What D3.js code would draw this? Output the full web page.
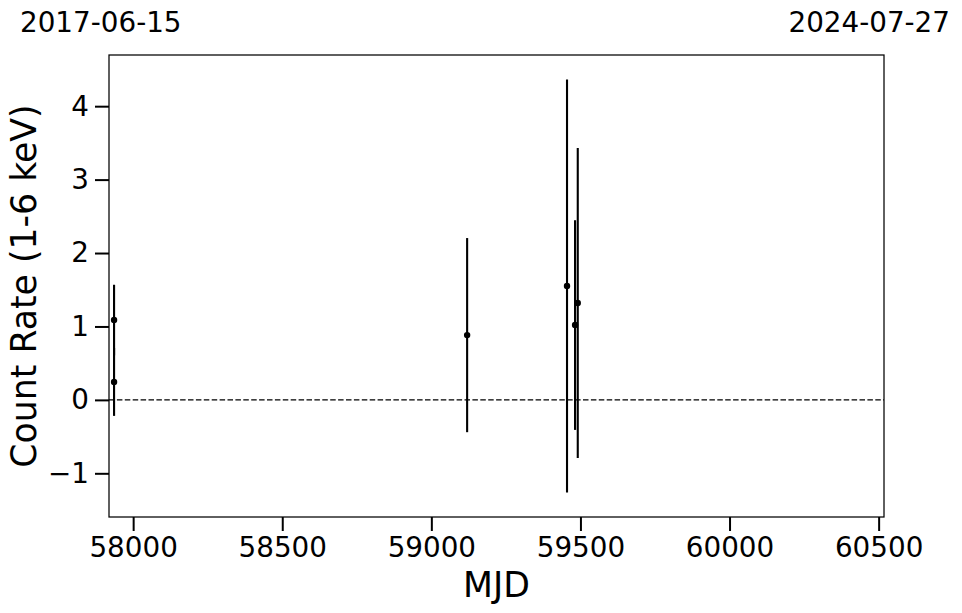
<!DOCTYPE html>
<html>
<head>
<meta charset="utf-8">
<script src="https://cdn.jsdelivr.net/npm/d3@7"></script>
<style>
  html, body { margin: 0; padding: 0; background: #fff; }
  svg { display: block; font-family: "DejaVu Sans", sans-serif; }
</style>
</head>
<body>
<svg id="chart" width="962" height="613"></svg>
<script>
// ---- data ----
const mjd      = [57936, 57936, 59120, 59455, 59482, 59491];
const rate     = [1.087, 0.245, 0.882, 1.551, 1.019, 1.319];
const rateErr  = [0.481, 0.463, 1.322, 2.814, 1.428, 2.111];
const xTicks   = [58000, 58500, 59000, 59500, 60000, 60500];
const yTicks   = [-1, 0, 1, 2, 3, 4];
const xDomain  = [57919, 60518];
const yDomain  = [-1.595, 4.697];
const dateLabels = ["2017-06-15", "2024-07-27"];
const xLabel = "MJD";
const yLabel = "Count Rate (1-6 keV)";

(function () {
// ---- layout ----
const svg = d3.select("#chart");
const mL = 109, mR = 884, mT = 55, mB = 517;
const tickFont = 27.8, labelFont = 34.7;

const x = d3.scaleLinear().domain(xDomain).range([mL, mR]);
const y = d3.scaleLinear().domain(yDomain).range([mB, mT]);

const fmtY = d => d < 0 ? "\u2212" + Math.abs(d) : String(d);

// x axis
const xAxis = d3.axisBottom(x).tickValues(xTicks).tickSize(14).tickPadding(6).tickFormat(d3.format("d"));
const gx = svg.append("g").attr("transform", `translate(0,${mB})`).call(xAxis);
gx.select(".domain").remove();
gx.selectAll(".tick line").attr("stroke", "#000").attr("stroke-width", 2);
gx.selectAll(".tick text").attr("font-size", tickFont).attr("fill", "#000")
  .attr("font-family", "DejaVu Sans");

// y axis
const yAxis = d3.axisLeft(y).tickValues(yTicks).tickSize(14).tickPadding(6).tickFormat(fmtY);
const gy = svg.append("g").attr("transform", `translate(${mL},0)`).call(yAxis);
gy.select(".domain").remove();
gy.selectAll(".tick line").attr("stroke", "#000").attr("stroke-width", 2);
gy.selectAll(".tick text").attr("font-size", tickFont).attr("fill", "#000")
  .attr("font-family", "DejaVu Sans");

// clip
svg.append("clipPath").attr("id", "clip").append("rect")
  .attr("x", mL).attr("y", mT).attr("width", mR - mL).attr("height", mB - mT);

const plot = svg.append("g").attr("clip-path", "url(#clip)");

// zero line
plot.append("line")
  .attr("x1", mL).attr("x2", mR)
  .attr("y1", y(0)).attr("y2", y(0))
  .attr("stroke", "#000").attr("stroke-width", 1.4)
  .attr("stroke-dasharray", "5.5,2.4");

const pts = mjd.map((m, i) => ({ m, r: rate[i], e: rateErr[i] }));

// error bars
plot.selectAll("line.err").data(pts).join("line")
  .attr("class", "err")
  .attr("x1", d => x(d.m)).attr("x2", d => x(d.m))
  .attr("y1", d => y(d.r - d.e)).attr("y2", d => y(d.r + d.e))
  .attr("stroke", "#000").attr("stroke-width", 2.1);

// points
plot.selectAll("circle.pt").data(pts).join("circle")
  .attr("class", "pt")
  .attr("cx", d => x(d.m)).attr("cy", d => y(d.r))
  .attr("r", 3.2).attr("fill", "#000");

// frame
svg.append("rect")
  .attr("x", mL).attr("y", mT).attr("width", mR - mL).attr("height", mB - mT)
  .attr("fill", "none").attr("stroke", "#000").attr("stroke-width", 1.25);

// axis labels
svg.append("text")
  .attr("x", (mL + mR) / 2).attr("y", 597)
  .attr("text-anchor", "middle").attr("font-size", labelFont).attr("fill", "#000")
  .text(xLabel);

svg.append("text")
  .attr("transform", `translate(36,${(mT + mB) / 2}) rotate(-90)`)
  .attr("text-anchor", "middle").attr("font-size", labelFont).attr("fill", "#000")
  .text(yLabel);

// date labels
svg.append("text")
  .attr("x", 20).attr("y", 32)
  .attr("text-anchor", "start").attr("font-size", tickFont).attr("fill", "#000")
  .text(dateLabels[0]);
svg.append("text")
  .attr("x", 950).attr("y", 32)
  .attr("text-anchor", "end").attr("font-size", tickFont).attr("fill", "#000")
  .text(dateLabels[1]);
})();
</script>
</body>
</html>
